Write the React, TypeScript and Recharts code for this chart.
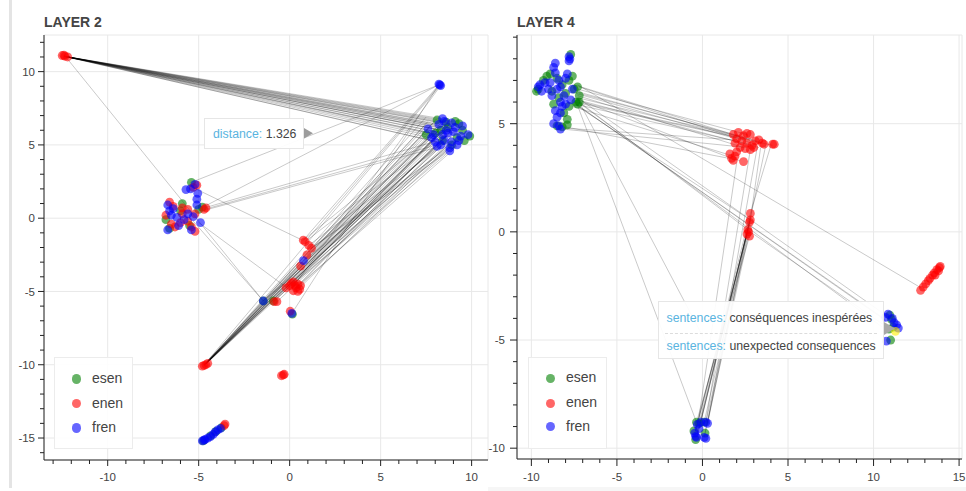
import React from "react";
import {
  ScatterChart,
  Scatter,
  XAxis,
  YAxis,
  ReferenceLine,
  ReferenceArea,
} from "recharts";

type Pt = [number, number];
type Seg = [number, number, number, number];

const FONT = '"Liberation Sans", Arial, Helvetica, sans-serif';
const INK = "#444";
const AXIS = "#222";
const GRID = "#e8e8e8";
const TIP_LABEL = "#5ab4df";

const SERIES = ["esen", "enen", "fren"];
const SERIES_COLORS = ["#008000", "#ff0000", "#0000ff"];

// ---------- LAYER 2 ----------
const l2XDomain = [-13.5, 10.9];
const l2YDomain = [-16.5, 12.5];
const l2XTicks = [-13, -12, -11, -10, -9, -8, -7, -6, -5, -4, -3, -2, -1, 0, 1, 2, 3, 4, 5, 6, 7, 8, 9, 10];
const l2YTicks = [-16, -15, -14, -13, -12, -11, -10, -9, -8, -7, -6, -5, -4, -3, -2, -1, 0, 1, 2, 3, 4, 5, 6, 7, 8, 9, 10, 11, 12];
const l2XGrid = [-10, -5, 0, 5, 10];
const l2YGrid = [-15, -10, -5, 0, 5, 10];

const l2Esen: Pt[] = [
  [8.1, 6.7], [8.6, 6.55], [9.3, 6.45], [9.5, 6.0], [9.9, 5.6], [8.0, 5.8], [8.4, 5.3],
  [8.9, 5.0], [9.2, 5.5], [8.7, 6.2], [9.6, 5.3], [8.3, 6.0], [7.5, 5.7], [9.1, 6.6],
  [-5.4, 2.45], [-6.8, -0.1], [-6.0, 0.5], [-5.0, 0.6], [-4.8, 0.75], [-6.6, -0.7],
  [-5.5, -0.5], [-5.9, 1.0],
  [-1.45, -5.65], [-0.9, -5.65], [0.15, -6.55],
  [-4.75, -15.2], [-4.35, -14.85], [-3.75, -14.3], [-4.05, -14.55],
];
const l2Enen: Pt[] = [
  [-12.5, 11.1], [-12.35, 11.05], [-12.2, 11.0], [-12.4, 11.12],
  [-5.1, 2.25], [-5.3, 2.1], [-6.6, 1.1], [-6.4, 0.8], [-5.9, 0.7], [-5.6, 0.6], [-6.0, -0.3],
  [-5.2, 0.3], [-4.6, 0.7], [-4.7, 0.6], [-6.3, -0.6], [-6.5, -0.4], [-5.6, -0.2], [-5.4, -0.6],
  [-5.9, 0.3], [-6.8, 0.2], [-5.2, -0.9],
  [0.75, -1.5], [0.85, -1.6], [1.05, -1.85], [1.2, -2.05], [0.95, -2.5], [0.6, -3.27],
  [-0.2, -4.75], [0.1, -4.45], [0.2, -4.35], [0.3, -4.6], [0.45, -4.5], [0.55, -4.85],
  [0.2, -4.95], [0.35, -4.75], [0.6, -4.6], [0.0, -4.6], [0.45, -5.0],
  [-0.85, -5.7], [-0.7, -5.7], [0.03, -6.35],
  [-4.8, -10.1], [-4.7, -10.05], [-4.6, -10.0], [-4.5, -9.9],
  [-0.45, -10.75], [-0.3, -10.65], [-0.35, -10.7],
  [-3.6, -14.15], [-3.55, -14.05],
];
const l2Fren: Pt[] = [
  [8.2, 9.15], [8.3, 9.05], [8.25, 9.1],
  [7.9, 5.7], [8.2, 6.4], [8.5, 6.6], [8.9, 6.5], [9.1, 6.2], [8.7, 5.8], [8.5, 5.3],
  [8.3, 5.0], [8.8, 4.8], [9.2, 5.0], [9.4, 5.6], [9.8, 5.7], [8.0, 5.2], [9.0, 5.9],
  [8.6, 6.0], [8.4, 5.7], [9.3, 5.3], [8.9, 5.2], [7.8, 5.5], [8.1, 4.9], [9.5, 6.3],
  [8.4, 6.8], [7.6, 6.1], [8.8, 4.6],
  [-5.2, 2.3], [-5.45, 2.0], [-5.7, 1.95], [-5.05, 1.7], [-5.1, 1.3], [-5.1, 0.9],
  [-6.7, 0.9], [-6.6, 0.5], [-6.5, 0.2], [-6.2, 0.05], [-5.8, -0.1], [-5.6, 0.3],
  [-5.3, 0.1], [-4.9, -0.3], [-5.4, -0.8], [-6.7, -0.8], [-6.1, -0.5], [-6.4, 0.65],
  [0.76, -2.9], [0.12, -6.5], [-1.45, -5.65],
  [-4.8, -15.2], [-4.65, -15.1], [-4.5, -15.0], [-4.35, -14.9], [-4.2, -14.75],
  [-4.1, -14.6], [-3.95, -14.45], [-3.8, -14.35], [-4.7, -15.15],
];
const l2Links: Seg[] = [
  // top-left red group -> right cluster
  [-12.4, 11.05, 7.9, 5.7], [-12.4, 11.05, 8.0, 6.6], [-12.4, 11.05, 8.1, 6.4],
  [-12.4, 11.05, 8.2, 6.2], [-12.4, 11.05, 8.3, 6.5], [-12.4, 11.05, 8.4, 6.0],
  [-12.4, 11.05, 8.5, 5.8], [-12.4, 11.05, 8.6, 6.6], [-12.4, 11.05, 8.7, 6.3],
  [-12.4, 11.05, 8.8, 5.9], [-12.4, 11.05, 9.0, 6.1], [-12.4, 11.05, 9.1, 5.8],
  [-12.4, 11.05, 9.2, 6.4], [-12.4, 11.05, 8.2, 5.5], [-12.4, 11.05, 8.4, 5.3],
  [-12.4, 11.05, 8.6, 5.6], [-12.4, 11.05, 8.9, 5.5], [-12.4, 11.05, 9.3, 5.9],
  [-12.4, 11.05, 8.0, 5.9], [-12.4, 11.05, 8.3, 6.8], [-12.4, 11.05, 8.9, 6.6],
  [-12.4, 11.05, 9.5, 6.0], [-12.4, 11.05, 8.1, 5.2], [-12.4, 11.05, 8.5, 5.1],
  [-12.3, 11.0, -1.45, -5.65],
  // left cluster
  [-5.5, 2.4, 8.2, 9.1], [-5.0, 0.6, 8.2, 9.1], [-4.7, 0.6, 7.8, 4.9], [-4.7, 0.7, 7.9, 5.2],
  [-4.8, 0.5, 8.0, 4.8], [-5.5, 2.2, 0.7, -1.5], [-5.3, -0.2, -1.45, -5.65], [-5.0, -0.3, -0.2, -4.7],
  // lone blue at top
  [8.2, 9.1, 0.75, -1.5], [8.25, 9.1, 0.85, -1.6], [8.3, 9.05, 0.3, -4.5],
  [8.2, 9.1, 0.12, -6.5], [8.3, 9.1, -4.7, -10.0],
  // right cluster -> lower-left red group
  [7.3, 6.0, -4.7, -10.0], [7.4, 6.3, -4.7, -10.0], [7.5, 5.8, -4.65, -10.0],
  [7.6, 6.6, -4.7, -10.05], [7.7, 6.2, -4.6, -9.95], [7.8, 5.7, -4.7, -10.0],
  [7.9, 6.5, -4.7, -10.0], [8.0, 6.0, -4.65, -10.0], [8.1, 6.8, -4.7, -10.05],
  [8.2, 5.8, -4.6, -9.95], [8.3, 6.3, -4.7, -10.0], [8.4, 6.6, -4.7, -10.0],
  [8.5, 5.9, -4.65, -10.0], [8.6, 6.2, -4.7, -10.05], [8.7, 5.7, -4.6, -9.95],
  [8.8, 6.4, -4.7, -10.0], [8.9, 5.9, -4.7, -10.0], [9.0, 6.1, -4.65, -10.0],
  [7.5, 6.9, -4.7, -10.05], [8.2, 6.0, -4.6, -9.95], [8.0, 5.5, -4.7, -10.0],
  [8.6, 5.6, -4.7, -10.0], [7.7, 5.9, -4.65, -10.0], [8.4, 5.6, -4.7, -10.05],
  [9.1, 5.8, -4.6, -9.95],
  // right cluster -> middle red groups
  [7.8, 5.3, 0.2, -4.5], [8.0, 5.0, 0.4, -4.7], [8.3, 4.9, 0.1, -4.6], [8.6, 4.9, 0.5, -4.8],
  [8.9, 5.0, 0.3, -4.4], [9.2, 4.9, 0.2, -4.9], [8.1, 5.6, 0.0, -4.6], [8.5, 5.3, 0.35, -4.7],
  [8.8, 4.8, 0.55, -4.6], [9.0, 5.3, -0.2, -4.75],
  [7.7, 5.5, 0.75, -1.5], [8.0, 5.2, 0.85, -1.6], [8.4, 5.0, 1.05, -1.85],
  [8.7, 4.8, 1.2, -2.05], [9.1, 4.9, 1.2, -2.05], [8.2, 6.0, 0.95, -2.5],
  [8.3, 5.1, 0.6, -3.27], [8.8, 5.0, 0.76, -2.9],
  [8.0, 5.4, -0.85, -5.7], [8.6, 5.0, -0.7, -5.7], [9.0, 4.8, -0.9, -5.65],
  [8.4, 5.2, -1.45, -5.65], [8.9, 4.9, -1.45, -5.65],
];

// ---------- LAYER 4 ----------
const l4XDomain = [-10.84, 15.17];
const l4YDomain = [-10.5, 9.1];
const l4XTicks = [-10, -9, -8, -7, -6, -5, -4, -3, -2, -1, 0, 1, 2, 3, 4, 5, 6, 7, 8, 9, 10, 11, 12, 13, 14, 15];
const l4YTicks = [-10, -9, -8, -7, -6, -5, -4, -3, -2, -1, 0, 1, 2, 3, 4, 5, 6, 7, 8, 9];
const l4XGrid = [-10, -5, 0, 5, 10, 15];
const l4YGrid = [-10, -5, 0, 5];

const l4Esen: Pt[] = [
  [-9.6, 6.6], [-9.3, 7.0], [-8.9, 7.3], [-8.5, 7.1], [-8.2, 6.8], [-7.8, 7.0], [-7.5, 6.6],
  [-7.2, 6.3], [-7.4, 6.0], [-7.8, 5.8], [-8.0, 6.4], [-8.4, 6.2], [-8.8, 6.5], [-7.6, 7.2],
  [-8.1, 5.5], [-7.9, 5.2], [-8.5, 4.9], [-8.2, 4.85], [-7.9, 4.95], [-7.7, 8.2], [-9.7, 6.5],
  [-7.3, 6.7], [-8.7, 5.9], [-9.1, 7.2], [-7.2, 6.0], [-7.3, 5.9],
  [-0.35, -8.8], [-0.2, -8.85], [-0.4, -9.6], [0.15, -9.3], [0.1, -8.8], [-0.5, -9.2],
  [10.95, -3.85], [11.05, -4.05], [10.9, -4.5], [11.0, -5.0], [11.15, -4.4],
];
const l4Enen: Pt[] = [
  [1.8, 4.5], [2.1, 4.6], [2.4, 4.45], [2.6, 4.55], [2.8, 4.5], [2.0, 4.3], [2.3, 4.2],
  [2.6, 4.1], [2.9, 4.0], [3.1, 4.2], [3.3, 4.25], [3.5, 4.1], [3.6, 4.05], [4.1, 4.05],
  [4.2, 4.05], [1.9, 4.1], [2.2, 3.9], [2.5, 3.85], [2.8, 3.8], [3.0, 3.9], [1.6, 3.6],
  [1.7, 3.4], [1.9, 3.5], [1.8, 3.3], [2.4, 3.25], [2.0, 3.7],
  [2.8, 0.85], [2.8, 0.55], [2.75, 0.45], [2.65, 0.1], [2.7, 0.0], [2.75, -0.2], [2.6, -0.1],
  [12.75, -2.7], [12.9, -2.55], [13.05, -2.4], [13.2, -2.25], [13.3, -2.15], [13.45, -2.0],
  [13.55, -1.9], [13.7, -1.75], [13.85, -1.65], [13.9, -1.6], [13.8, -1.8], [13.6, -2.0],
];
const l4Fren: Pt[] = [
  [-7.8, 8.1], [-7.8, 7.9], [-7.75, 8.0], [-8.7, 7.6], [-8.6, 7.35], [-9.5, 6.8], [-9.2, 6.9],
  [-9.6, 6.7], [-9.4, 6.5], [-8.9, 6.9], [-8.5, 6.6], [-8.1, 6.3], [-8.3, 6.0], [-8.0, 5.9],
  [-8.6, 5.6], [-8.5, 5.3], [-8.2, 5.8], [-7.7, 6.1], [-8.3, 6.7], [-8.0, 7.1], [-8.4, 7.0],
  [-8.8, 6.3], [-8.4, 4.9], [-8.3, 4.75], [-7.9, 7.3], [-8.7, 5.0], [-8.3, 5.5], [-7.6, 6.6],
  [-8.6, 7.8], [-9.0, 6.6],
  [-0.3, -8.9], [-0.1, -8.8], [0.2, -8.8], [0.3, -8.85], [-0.45, -9.3], [-0.4, -9.45],
  [-0.2, -9.1], [0.1, -9.5], [0.2, -9.55], [-0.35, -9.5],
  [10.85, -3.8], [11.1, -4.0], [11.35, -4.3], [11.45, -4.45], [11.2, -4.2], [10.75, -5.05],
  [10.7, -3.95],
];
const l4Picked: Pt[] = [[11.28, -4.6]];
const l4Links: Seg[] = [
  // top-left cluster -> red cluster
  [-7.3, 6.6, 2.6, 4.5], [-7.2, 6.4, 2.8, 4.3], [-7.3, 6.2, 3.2, 4.2], [-7.4, 6.5, 3.5, 4.1],
  [-7.2, 6.0, 2.5, 4.3], [-7.5, 6.8, 2.2, 4.4], [-7.4, 5.9, 3.0, 4.0], [-7.3, 6.3, 2.4, 3.9],
  [-7.6, 5.8, 1.8, 3.5], [-7.2, 6.7, 2.9, 4.1], [-7.3, 6.1, 3.3, 3.9], [-7.5, 6.0, 4.1, 4.0],
  [-7.4, 6.4, 2.0, 4.3], [-7.6, 6.2, 1.7, 3.4],
  [-8.15, 4.8, 1.9, 4.25], [-8.15, 4.75, 2.6, 3.9], [-8.0, 4.85, 2.2, 3.3],
  // top-left cluster -> elsewhere
  [-7.2, 6.0, 2.65, 0.1], [-7.3, 5.8, 2.8, 0.55],
  [-7.35, 5.95, -0.35, -8.8], [-7.2, 6.0, 0.0, -4.8],
  [-7.4, 5.9, 10.6, -4.0], [-7.2, 5.8, 10.7, -4.1], [-7.3, 6.2, 10.8, -3.9], [-7.1, 5.9, 10.5, -4.4],
  [-7.3, 6.8, 12.8, -2.6],
  // red cluster -> below
  [2.0, 3.2, -0.25, -8.8], [2.8, 3.8, 0.2, -8.8], [3.2, 3.9, 0.3, -8.85],
  [3.4, 3.9, 2.7, 0.0], [3.7, 4.0, 2.75, 0.45], [4.0, 4.0, 2.8, 0.85],
  [2.8, 0.0, 10.6, -4.3],
  // red column -> bottom cluster
  [2.8, 0.85, -0.3, -8.9], [2.8, 0.55, -0.2, -8.85], [2.75, 0.45, -0.1, -8.8],
  [2.65, 0.1, 0.1, -8.8], [2.7, 0.0, 0.2, -8.8], [2.75, -0.2, -0.35, -8.8],
  [2.6, -0.1, -0.4, -9.2], [2.7, 0.3, -0.3, -9.4], [2.8, 0.7, 0.15, -9.3],
  [2.7, 0.2, -0.45, -9.3], [2.65, 0.0, 0.3, -8.85], [2.75, 0.5, -0.2, -9.1],
  [2.7, -0.15, 0.1, -9.5], [2.8, 0.6, -0.35, -9.5],
];

const toData = (pts: Pt[]) => pts.map(([x, y]) => ({ x, y }));

const dot = (color: string) => (p: any) => (
  <circle cx={p.cx} cy={p.cy} r={4.4} fill={color} fillOpacity={0.6} />
);

const makeXTick = (major: number, labelDy: number) => (p: any) => {
  const v = p.payload.value;
  const isMajor = v % 5 === 0;
  return (
    <g>
      <line x1={p.x} x2={p.x} y1={p.y} y2={p.y + (isMajor ? major : 4)} stroke={AXIS} />
      {isMajor && (
        <text x={p.x} y={p.y + labelDy} textAnchor="middle" fontSize={11.5} fill={INK} fontFamily={FONT}>
          {v}
        </text>
      )}
    </g>
  );
};

const makeYTick = (major: number, gap: number) => (p: any) => {
  const v = p.payload.value;
  const isMajor = v % 5 === 0;
  return (
    <g>
      <line x1={p.x - (isMajor ? major : 4)} x2={p.x} y1={p.y} y2={p.y} stroke={AXIS} />
      {isMajor && (
        <text x={p.x - gap} y={p.y} dy="0.36em" textAnchor="end" fontSize={11.5} fill={INK} fontFamily={FONT}>
          {v}
        </text>
      )}
    </g>
  );
};

interface PanelProps {
  left: number;
  width: number;
  yAxisWidth: number;
  marginRight: number;
  xAxisHeight: number;
  xDomain: number[];
  yDomain: number[];
  xTicks: number[];
  yTicks: number[];
  xGrid: number[];
  yGrid: number[];
  series: Pt[][];
  links: Seg[];
  picked?: Pt[];
  majorTick: number;
  xLabelDy: number;
  yLabelGap: number;
}

function Panel(props: PanelProps) {
  const { xDomain, yDomain } = props;
  return (
    <div style={{ position: "absolute", left: props.left, top: 0 }}>
      <ScatterChart
        width={props.width}
        height={491}
        margin={{ top: 35, right: props.marginRight, bottom: 0, left: 0 }}
      >
        <XAxis
          type="number"
          dataKey="x"
          domain={xDomain}
          allowDataOverflow
          ticks={props.xTicks}
          interval={0}
          tickSize={0}
          tickMargin={0}
          tickLine={false}
          tick={makeXTick(props.majorTick, props.xLabelDy)}
          axisLine={{ stroke: AXIS }}
          height={props.xAxisHeight}
        />
        <YAxis
          type="number"
          dataKey="y"
          domain={yDomain}
          allowDataOverflow
          ticks={props.yTicks}
          interval={0}
          tickSize={0}
          tickMargin={0}
          tickLine={false}
          tick={makeYTick(props.majorTick, props.yLabelGap)}
          axisLine={{ stroke: AXIS }}
          width={props.yAxisWidth}
        />
        <ReferenceArea
          x1={xDomain[0]}
          x2={xDomain[1]}
          y1={yDomain[0]}
          y2={yDomain[1]}
          fill="none"
          stroke={GRID}
        />
        {props.xGrid.map((v) => (
          <ReferenceLine key={"gx" + v} x={v} stroke={GRID} />
        ))}
        {props.yGrid.map((v) => (
          <ReferenceLine key={"gy" + v} y={v} stroke={GRID} />
        ))}
        {props.links.map((s, i) => (
          <ReferenceLine
            key={"l" + i}
            segment={[
              { x: s[0], y: s[1] },
              { x: s[2], y: s[3] },
            ]}
            stroke="#000"
            strokeOpacity={0.24}
            strokeWidth={0.9}
          />
        ))}
        {props.series.map((pts, i) => (
          <Scatter
            key={SERIES[i]}
            name={SERIES[i]}
            data={toData(pts)}
            shape={dot(SERIES_COLORS[i])}
            isAnimationActive={false}
          />
        ))}
        {props.picked && (
          <Scatter data={toData(props.picked)} shape={dot("#ffee00")} isAnimationActive={false} />
        )}
      </ScatterChart>
    </div>
  );
}

function Legend({ left, top, rows }: { left: number; top: number; rows: number[] }) {
  return (
    <div
      style={{
        position: "absolute",
        left,
        top,
        width: 79,
        height: 92,
        border: "1px solid #ececec",
        background: "rgba(255,255,255,0.9)",
        boxSizing: "border-box",
      }}
    >
      {SERIES.map((s, i) => (
        <React.Fragment key={s}>
          <div
            style={{
              position: "absolute",
              left: 17,
              top: rows[i] - 4.7,
              width: 9.4,
              height: 9.4,
              borderRadius: "50%",
              background: SERIES_COLORS[i],
              opacity: 0.6,
            }}
          />
          <div
            style={{
              position: "absolute",
              left: 37,
              top: rows[i] - 8,
              fontSize: 14,
              lineHeight: "14px",
              color: INK,
              fontFamily: FONT,
              whiteSpace: "nowrap",
            }}
          >
            {s}
          </div>
        </React.Fragment>
      ))}
    </div>
  );
}

const tipText = { fontSize: 12.3, lineHeight: "13px", fontFamily: FONT, whiteSpace: "nowrap" as const };

export default function App() {
  return (
    <div
      style={{
        position: "absolute",
        left: 0,
        top: 0,
        width: 966,
        height: 491,
        background: "#fff",
        overflow: "hidden",
        fontFamily: FONT,
      }}
    >
      <div style={{ position: "absolute", left: 9, top: 0, width: 3, height: 488, background: "#e4e4e4" }} />
      <div style={{ position: "absolute", left: 488, top: 487, width: 478, height: 4, background: "#f6f6f6" }} />

      <Panel
        left={0}
        width={490}
        yAxisWidth={44}
        marginRight={2}
        xAxisHeight={31}
        xDomain={l2XDomain}
        yDomain={l2YDomain}
        xTicks={l2XTicks}
        yTicks={l2YTicks}
        xGrid={l2XGrid}
        yGrid={l2YGrid}
        series={[l2Esen, l2Enen, l2Fren]}
        links={l2Links}
        majorTick={6}
        xLabelDy={21}
        yLabelGap={9}
      />
      <Panel
        left={488}
        width={478}
        yAxisWidth={29}
        marginRight={4}
        xAxisHeight={32}
        xDomain={l4XDomain}
        yDomain={l4YDomain}
        xTicks={l4XTicks}
        yTicks={l4YTicks}
        xGrid={l4XGrid}
        yGrid={l4YGrid}
        series={[l4Esen, l4Enen, l4Fren]}
        links={l4Links}
        picked={l4Picked}
        majorTick={7}
        xLabelDy={22}
        yLabelGap={12}
      />

      <div style={{ position: "absolute", left: 44, top: 14.5, fontSize: 14, lineHeight: "14px", fontWeight: 700, color: INK }}>
        LAYER 2
      </div>
      <div style={{ position: "absolute", left: 517, top: 14.5, fontSize: 14, lineHeight: "14px", fontWeight: 700, color: INK }}>
        LAYER 4
      </div>

      <Legend left={54} top={357} rows={[21, 45.7, 70]} />
      <Legend left={528} top={357} rows={[20.3, 45.3, 68.7]} />

      {/* hover tooltip, layer 2 */}
      <div
        style={{
          position: "absolute",
          left: 204,
          top: 118,
          width: 100,
          height: 31,
          boxSizing: "border-box",
          background: "rgba(255,255,255,0.95)",
          border: "1px solid #e6e6e6",
        }}
      >
        <div style={{ ...tipText, position: "absolute", left: 8, top: 9 }}>
          <span style={{ color: TIP_LABEL }}>distance: </span>
          <span style={{ color: INK }}>1.326</span>
        </div>
      </div>
      <svg style={{ position: "absolute", left: 0, top: 0 }} width={966} height={491}>
        <polygon points="304,128 313,133.3 304,138.6" fill="#9c9c9c" />
        <polygon points="884,322 895,328.5 884,335" fill="#a8a8a8" />
      </svg>

      {/* hover tooltip, layer 4 */}
      <div
        style={{
          position: "absolute",
          left: 658,
          top: 301,
          width: 226,
          height: 58,
          boxSizing: "border-box",
          background: "rgba(255,255,255,0.93)",
          border: "1px solid #e6e6e6",
        }}
      >
        <div style={{ ...tipText, position: "absolute", left: 7.5, top: 10 }}>
          <span style={{ color: TIP_LABEL }}>sentences: </span>
          <span style={{ color: INK }}>conséquences inespérées</span>
        </div>
        <div style={{ position: "absolute", left: 6, right: 6, top: 30.5, borderTop: "1px dashed #dcdcdc" }} />
        <div style={{ ...tipText, position: "absolute", left: 7.5, top: 37.5 }}>
          <span style={{ color: TIP_LABEL }}>sentences: </span>
          <span style={{ color: INK }}>unexpected consequences</span>
        </div>
      </div>
    </div>
  );
}
